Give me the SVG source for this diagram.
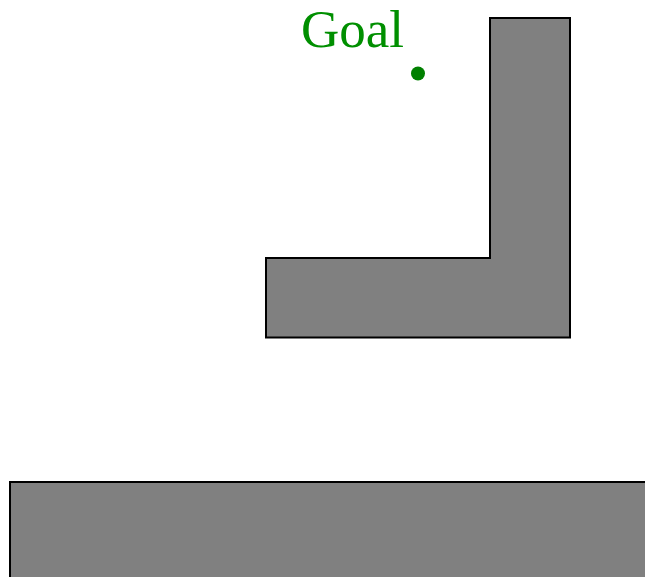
<svg xmlns="http://www.w3.org/2000/svg" width="645" height="577" viewBox="0 0 645 577">
<style>
.obs{fill:#808080;stroke:#000;stroke-width:2;stroke-linejoin:miter}
.goal{fill:#008000}
.lbl{font-family:"Liberation Serif",serif;font-size:53px;fill:#008f00}
</style>
<rect width="645" height="577" fill="#fff"/>
<g id="obstacle-L">
<path class="obs" d="M490,18 H570 V337.5 H266 V258 H490 Z"/>
</g>
<g id="obstacle-bottom">
<rect class="obs" x="10" y="482" width="640" height="100"/>
</g>
<g id="goal">
<circle class="goal" cx="418" cy="73.5" r="7"/>
<text class="lbl" x="301" y="47">Goal</text>
</g>
<g id="connectors"/>
</svg>
